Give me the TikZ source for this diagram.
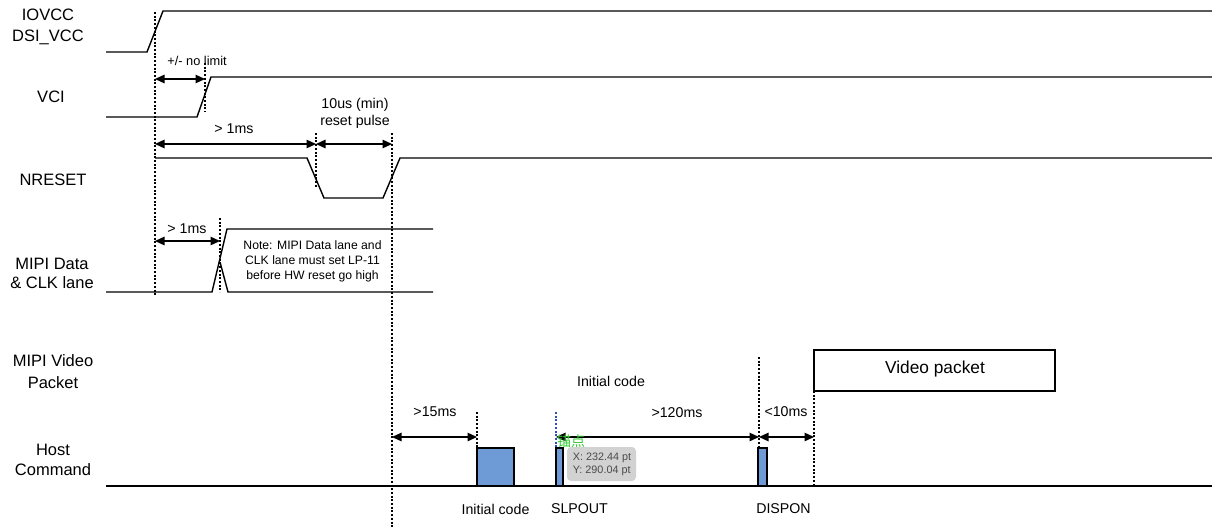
\documentclass[tikz,border=0pt]{standalone}
\usepackage{fontspec}
\setmainfont{Liberation Sans}
\newfontfamily\cjk{Noto Sans CJK SC}
\usetikzlibrary{arrows.meta}
\definecolor{cmdblue}{HTML}{6E9AD6}
\definecolor{tipgray}{HTML}{D2D2D2}
\definecolor{tiptext}{HTML}{4A4A4A}
\definecolor{anchorgreen}{HTML}{33CC33}
\definecolor{guideblue}{HTML}{2E4FB8}
\begin{document}
\begin{tikzpicture}[x=1pt,y=-1pt,
  sig/.style={line width=1.4pt},
  guide/.style={line width=2pt, dash pattern=on 2pt off 1.7pt},
  dim/.style={line width=1.3pt,{Triangle[length=9.5pt,width=8.5pt]}-{Triangle[length=9.5pt,width=8.5pt]}},
  lbl/.style={font=\fontsize{16.5}{21}\selectfont, align=center, inner sep=0pt},
  ann/.style={font=\fontsize{14.2}{16.5}\selectfont, align=center, inner sep=0pt},
  note/.style={font=\fontsize{12.2}{15}\selectfont, align=center, inner sep=0pt},
  cmdbox/.style={draw, line width=1.3pt, fill=cmdblue}
]
\useasboundingbox (0,0) rectangle (1212,530);

% left labels
\node[lbl] (lIO) at (48,27) {IOVCC\\DSI\_VCC};
\node[lbl] (lVCI) at (51,97) {VCI};
\node[lbl] (lNR) at (53,180) {NRESET};
\node[lbl, font=\fontsize{16.5}{19}\selectfont] (lMIPI) at (52,273.5) {MIPI Data\\\& CLK lane};
\node[lbl, font=\fontsize{16.5}{22}\selectfont] (lVid) at (53,372) {MIPI Video\\Packet};
\node[lbl, font=\fontsize{16.5}{20}\selectfont] (lHost) at (53,460) {Host\\Command};

% signals
\draw[sig] (106,52) -- (147,52) -- (163,11) -- (1212,11);
\draw[sig] (106,117) -- (197,117) -- (211,77) -- (1212,77);
\draw[sig] (155,158) -- (307,158) -- (324,198) -- (383,198) -- (400,158) -- (1212,158);
\draw[sig] (106,292) -- (212,292) -- (227,229) -- (433,229);
\draw[sig] (220,262) -- (228,292) -- (433,292);
\draw[sig] (106,486) -- (1212,486);

% guide lines
\coordinate (gA1) at (155,12);  \coordinate (gA2) at (155,295);
\coordinate (gB1) at (205,63);  \coordinate (gB2) at (205,112);
\coordinate (gC1) at (316,133); \coordinate (gC2) at (316,188);
\coordinate (gD1) at (392,133); \coordinate (gD2) at (392,528);
\coordinate (gE1) at (220,218); \coordinate (gE2) at (220,292);
\coordinate (gF1) at (477,412); \coordinate (gF2) at (477,448);
\coordinate (gG1) at (556,412); \coordinate (gG2) at (556,448);
\coordinate (gH1) at (759,357); \coordinate (gH2) at (759,448);
\coordinate (gI1) at (814,391); \coordinate (gI2) at (814,486);
\draw[guide] (gA1) -- (gA2);
\draw[guide] (gB1) -- (gB2);
\draw[guide] (gC1) -- (gC2);
\draw[guide] (gD1) -- (gD2);
\draw[guide] (gE1) -- (gE2);
\draw[guide] (gF1) -- (gF2);
\draw[guide, guideblue] (gG1) -- (gG2);
\draw[guide] (gH1) -- (gH2);
\draw[guide] (gI1) -- (gI2);

% dimension arrows
\coordinate (a1) at (155,79);  \coordinate (a2) at (205,79);
\coordinate (b1) at (155,144); \coordinate (b2) at (316,144); \coordinate (b3) at (392,144);
\coordinate (c1) at (155,241); \coordinate (c2) at (220,241);
\coordinate (d1) at (392,437); \coordinate (d2) at (477,437);
\coordinate (d3) at (556,437); \coordinate (d4) at (759,437); \coordinate (d5) at (814,437);
\draw[dim] (a1) -- (a2);
\draw[dim] (b1) -- (b2);
\draw[dim] (b2) -- (b3);
\draw[dim] (c1) -- (c2);
\draw[dim] (d1) -- (d2);
\draw[dim] (d3) -- (d4);
\draw[dim] (d4) -- (d5);

\node[ann, font=\fontsize{12.8}{15}\selectfont] (tA) at (197,61) {+/- no limit};
\node[ann] (tB) at (234,129) {> 1ms};
\node[ann] (tC) at (355,113.5) {10us (min)\\reset pulse};
\node[ann] (tD) at (187,229) {> 1ms};
\node[note] (tNote) at (312.5,261) {Note: MIPI Data lane and\\CLK lane must set LP-11\\before HW reset go high};
\node[ann] (tE) at (435,412) {>15ms};
\node[ann] (tF) at (677,413) {>120ms};
\node[ann] (tG) at (786,412) {<10ms};
\node[ann] (tInit) at (611,381) {Initial code};

% command boxes
\draw[cmdbox] (477,448) rectangle (514,486);
\draw[cmdbox] (556,448) rectangle (563,486);
\draw[cmdbox] (758,448) rectangle (767,486);
\draw[line width=1.3pt, fill=white] (814,350) rectangle (1055,391);
\node[font=\fontsize{17.3}{20}\selectfont, inner sep=0pt] (tVid) at (935,369) {Video packet};

\node[ann] (bInit) at (495.5,509) {Initial code};
\node[ann] (bSlp) at (579.5,509) {SLPOUT};
\node[ann] (bDisp) at (783.5,509) {DISPON};

% editor tooltip
\draw[fill=tipgray, draw=none, rounded corners=4pt] (567,447) rectangle (636,481);
\node[font=\fontsize{10.8}{13.5}\selectfont, text=tiptext, align=left, inner sep=0pt] (tip) at (602,464.5) {X: 232.44 pt\\Y: 290.04 pt};
\node[font=\cjk\fontsize{14}{16}\selectfont, text=anchorgreen, inner sep=0pt] (anch) at (571,441) {锚点};
\end{tikzpicture}
\end{document}
